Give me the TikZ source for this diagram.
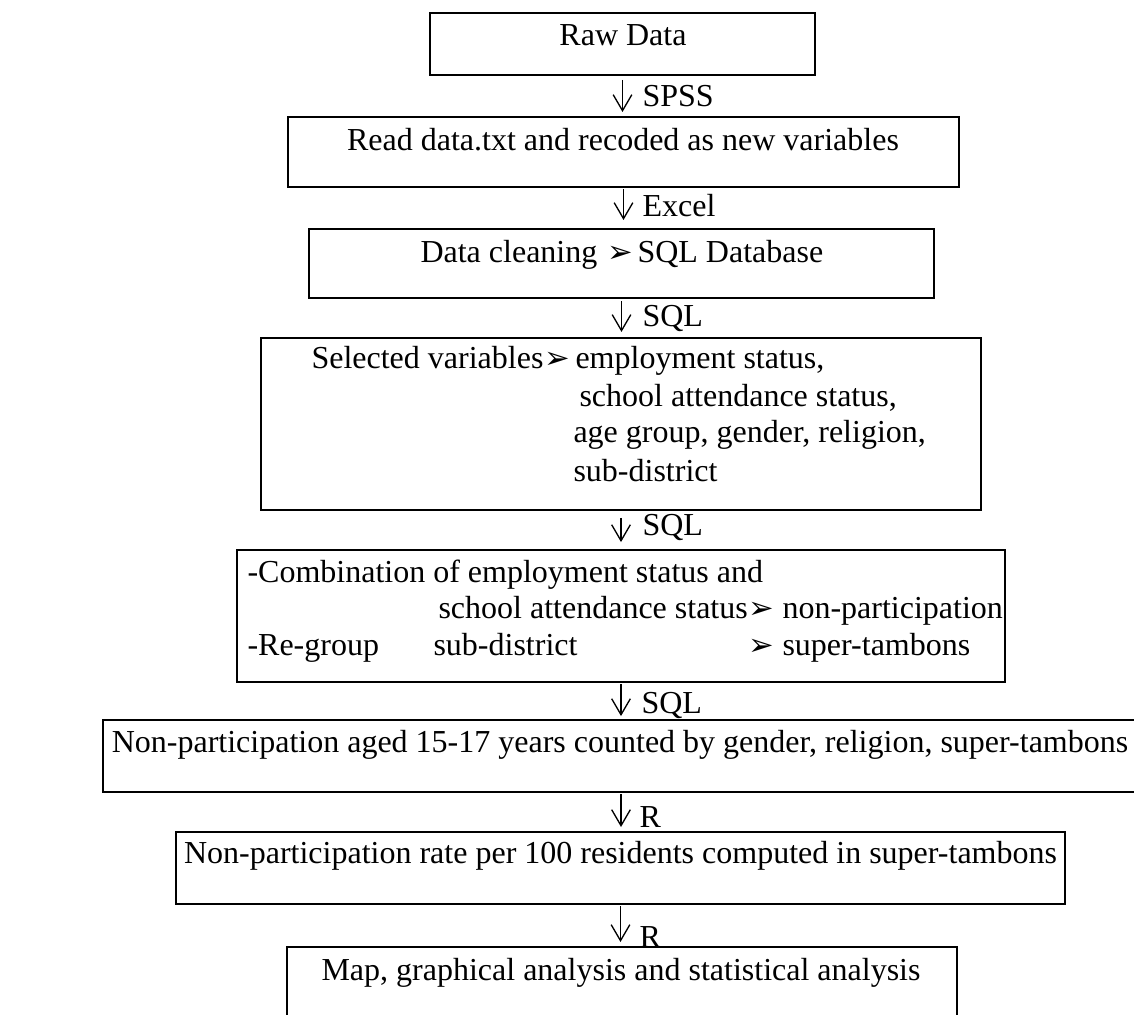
\documentclass[tikz,border=0pt]{standalone}
\usepackage{fontspec}
\setmainfont{Liberation Serif}
\newfontfamily\dingfont{DejaVu Sans}
\usepackage{tikz}
\usetikzlibrary{arrows.meta}
\newcommand{\pxu}{0.375pt}
\newcommand{\headmark}{{\dingfont\fontsize{11.5}{11.5}\selectfont ➢}}

\begin{document}
\begin{tikzpicture}[
    x=0.375pt, y=-0.375pt,
    font=\fontsize{12}{14}\selectfont,
    % Styles
    proc_box/.style 2 args={rectangle, draw=black, line width=0.75pt, inner sep=0pt, minimum width=#1*\pxu, minimum height=#2*\pxu},
    box_text/.style={inner sep=0pt, anchor=base},
    line_text/.style={inner sep=0pt, anchor=base west},
    tool_label/.style={inner sep=0pt, anchor=base west},
    flow/.style={line width=0.5pt, -{Straight Barb[length=6pt, width=7pt]}}
]
    \useasboundingbox (0,0) rectangle (1134,1015);

    % 1. RAW DATA
    \node[proc_box={385}{62}] (raw) at (622.5,44) {};
    \node[box_text] (rawtxt) at (623,46) {Raw Data};

    % 2. RECODING
    \node[proc_box={671}{70}] (read) at (623.5,152) {};
    \node[box_text] (readtxt) at (623,151) {Read data.txt and recoded as new variables};

    % 3. CLEANING
    \node[proc_box={625}{69}] (clean) at (621.5,263.5) {};
    \node[line_text] (cleana) at (420,263) {Data cleaning};
    \node[line_text] (cleanmark) at (607,263) {\headmark};
    \node[line_text] (cleanb) at (637,263) {SQL Database};

    % 4. SELECTION
    \node[proc_box={720}{172}] (select) at (621,424) {};
    \node[line_text] (sela) at (311,369) {Selected variables};
    \node[line_text] (selmark) at (544,369) {\headmark};
    \node[line_text] (selb) at (575,369) {employment status,};
    \node[line_text] (selc) at (579,407) {school attendance status,};
    \node[line_text] (seld) at (573,443) {age group, gender, religion,};
    \node[line_text] (sele) at (573,482) {sub-district};

    % 5. COMBINATION / RE-GROUP
    \node[proc_box={768}{132}] (combine) at (621,616) {};
    \node[line_text] (comba) at (247,582) {-Combination of employment status and};
    \node[line_text] (combb) at (438,618) {school attendance status};
    \node[line_text] (combmark) at (748,618) {\headmark};
    \node[line_text] (combc) at (782,618) {non-participation};
    \node[line_text] (rega) at (247,655) {-Re-group};
    \node[line_text] (regb) at (433,655) {sub-district};
    \node[line_text] (regmark) at (748,655) {\headmark};
    \node[line_text] (regc) at (782,655) {super-tambons};

    % 6. COUNTS
    \node[proc_box={1036}{72}] (count) at (621,756) {};
    \node[box_text] (counttxt) at (620,752) {Non-participation aged 15-17 years counted by gender, religion, super-tambons};

    % 7. RATES
    \node[proc_box={889}{72}] (rate) at (620.5,868) {};
    \node[box_text] (ratetxt) at (620.5,863) {Non-participation rate per 100 residents computed in super-tambons};

    % 8. ANALYSIS
    \node[proc_box={670}{73}] (map) at (622,983.5) {};
    \node[box_text] (maptxt) at (621,980) {Map, graphical analysis and statistical analysis};

    % Flow arrows
    \draw[flow, shorten <=1.5pt, shorten >=1.5pt] (raw.south) -- (raw.south |- read.north);
    \draw[flow, shorten <=0.4pt, shorten >=3pt] (read.south) -- (read.south |- clean.north);
    \draw[flow, shorten <=0.8pt, shorten >=1.9pt] (clean.south) -- (clean.south |- select.north);
    \draw[flow, shorten <=2.6pt, shorten >=2.6pt] (select.south) -- (select.south |- combine.north);
    \draw[flow, shorten <=0.4pt, shorten >=1.1pt] (combine.south) -- (combine.south |- count.north);
    \draw[flow, shorten <=0.4pt, shorten >=1.5pt] (count.south) -- (count.south |- rate.north);
    \draw[flow, shorten <=0.4pt, shorten >=1.5pt] (rate.south) -- (rate.south |- map.north);

    % Tool labels
    \node[tool_label] (spss) at (642,107) {SPSS};
    \node[tool_label] (excel) at (642,217) {Excel};
    \node[tool_label] (sqla) at (642,327) {SQL};
    \node[tool_label] (sqlb) at (642,535) {SQL};
    \node[tool_label] (sqlc) at (641,713) {SQL};
    \node[tool_label] (ra) at (639,827) {R};
    \node[tool_label] (rb) at (639,947) {R};

\end{tikzpicture}
\end{document}
